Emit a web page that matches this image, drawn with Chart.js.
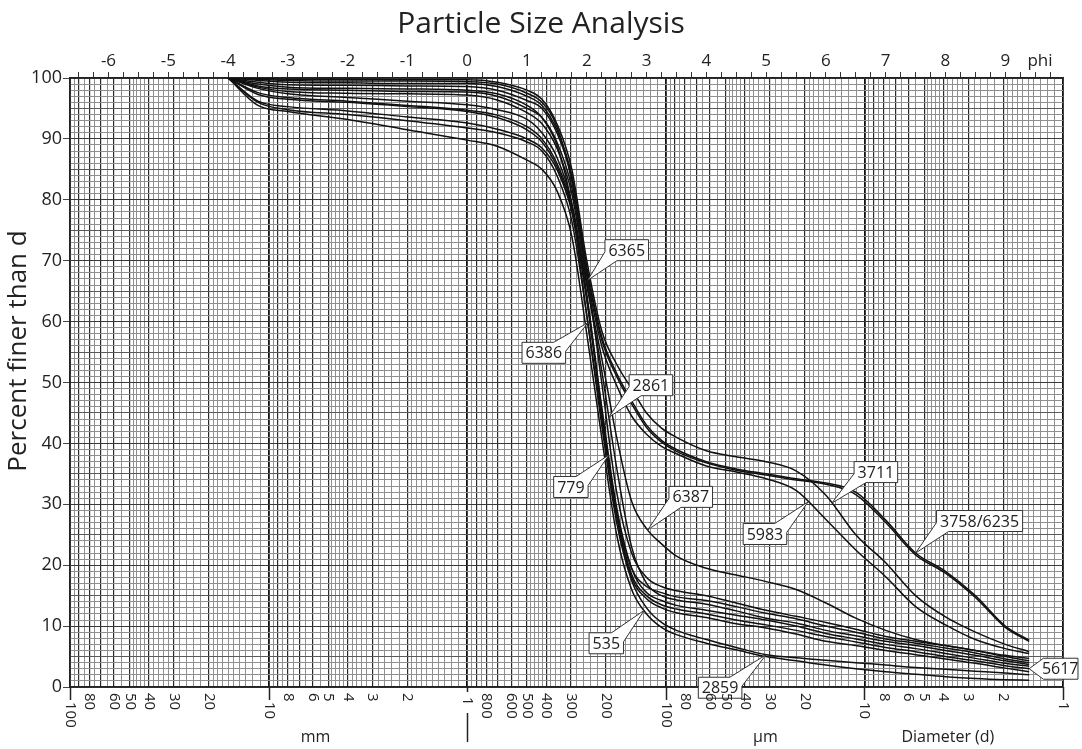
<!DOCTYPE html>
<html>
<head>
<meta charset="utf-8">
<script src="https://cdn.jsdelivr.net/npm/chart.js@4/dist/chart.umd.min.js"></script>
<style>
html,body{margin:0;padding:0;background:#fff;}
#wrap{width:1082px;height:749px;position:relative;}
</style>
</head>
<body>
<div id="wrap"><canvas id="c" width="1082" height="749"></canvas></div>
<script>
// ---------------- data (phi units on the x axis, percent finer on y) ----------------
const phiKnots = [-4,-3.5,-3,-2,-1,0,0.5,1,1.25,1.5,1.75,2,2.25,2.5,2.75,3,3.25,3.5,4,4.5,5,5.5,6,6.5,7,7.5,8,8.5,9,9.4];

const s3711 = [100,99.9,99.8,99.8,99.7,99.7,99.3,98,96.5,92.5,85,70,58.5,53,49,45,42.5,41,38.8,37.8,37.0,35.5,31.5,25,20.4,15,11.5,9,7,5.8];
const s6365 = [100,99.8,99.6,99.5,99.5,99.4,99.0,97.5,96,92,83,68,50,32,22,18,16.5,15.8,15.0,13.8,12.6,11.6,10.6,9.5,8.3,7.5,6.8,6.0,5.0,4.3];
const s3758 = [100,99.6,99.3,99.2,99.1,99.1,98.6,97.0,95.5,91.5,84,69,57.5,51.5,47,43,40.5,39,37,35.8,35.0,34.2,33.5,32,27.4,22,19,15,10,7.7];
const s6235 = [100,99.3,98.9,98.8,98.7,98.6,98.0,96.3,95,91,83.5,68.5,57,51,46.5,42.6,40.2,38.7,36.8,35.6,34.8,34.0,33.3,31.6,27.0,21.7,18.7,14.7,9.8,7.5];
const s6386 = [100,99.0,98.5,98.3,98.2,98.0,97.4,95.5,93.5,89,79,61,44,28.5,19.5,16.5,15.5,14.8,14.2,13.2,12.1,11.2,10.0,9.0,7.9,7.2,6.4,5.6,4.6,4.0];
const s5983 = [100,98.7,98.2,98.0,97.8,97.7,97.0,95.0,93.5,89.5,82,67.5,56,49.5,44.5,41.5,39.5,38.3,36.3,35.3,34.2,32.3,27.5,22.5,18.1,13.2,10.2,7.8,6.3,5.5];
const s2861 = [100,98.5,97.8,97.5,97.4,97.2,96.4,94.3,92.5,88.5,81,66.5,52,36,23,17,15.0,14.3,13.6,12.5,11.3,10.5,9.3,8.4,7.5,6.8,6.0,5.2,4.3,3.7];
const s6387 = [100,98.3,97.4,96.8,96.2,95.6,94.8,93.2,91,87,79.5,66,54,41,30.5,26,23.5,21.5,19.5,18.4,17.3,16.0,13.8,11.3,9.3,7.8,6.8,6.0,5.2,4.7];
const s779  = [100,97.6,96.8,96.2,95.5,94.7,93.9,92.0,90,86,79,64.5,46,29.5,19.5,15.5,14.2,13.4,12.6,11.8,11.0,10.0,8.8,7.9,7.0,6.3,5.5,4.7,3.9,3.4];
const s5617 = [100,97.3,96.5,96.0,95.3,94.5,93.5,91.5,89.5,85.5,78.5,64,45.5,28.5,18.5,15,13.5,12.8,12.0,11.0,10.2,9.3,8.3,7.4,6.5,5.8,5.0,4.3,3.5,3.0];
const sOther = [100,96.2,95.3,94.6,93.6,92.6,91.6,90.0,88.5,85,78,63.5,45,28,18,14.5,13.0,12.2,11.4,10.4,9.7,8.7,7.5,6.8,6.0,5.3,4.6,3.9,3.1,2.5];
const s2859 = [100,96.0,94.8,94.0,93.0,91.8,91.0,89.5,88,84,76.5,61,43,27,17.5,13,10.6,9.3,7.8,6.5,5.3,4.8,4.4,4.0,3.6,3.2,2.9,2.6,2.3,2.0];
const s535  = [100,95.5,94.5,93.2,91.5,89.8,88.8,86.5,85,81.5,74,58,41,25,16,12,9.8,8.6,7.2,6.1,5.0,4.3,3.6,3.0,2.5,2.1,1.7,1.4,1.2,1.1];

const sampleNames = ['3711','6365','3758','6235','6386','5983','2861','6387','779','5617','other','2859','535'];
const sampleValues = [s3711,s6365,s3758,s6235,s6386,s5983,s2861,s6387,s779,s5617,sOther,s2859,s535];

// axis tick labels
const diameterTicksMm = [100,80,60,50,40,30,20,10,8,6,5,4,3,2,1,0.8,0.6,0.5,0.4,0.3,0.2,0.1,0.08,0.06,0.05,0.04,0.03,0.02,0.01,0.008,0.006,0.005,0.004,0.003,0.002,0.001];
const diameterTickLabels = ['100','80','60','50','40','30','20','10','8','6','5','4','3','2','1','800','600','500','400','300','200','100','80','60','50','40','30','20','10','8','6','5','4','3','2','1'];
const percentTicks = [0,10,20,30,40,50,60,70,80,90,100];
const phiLabels = [-6,-5,-4,-3,-2,-1,0,1,2,3,4,5,6,7,8,9];

// log-paper grid mantissas (per decade) and decades (mm)
const gridMantissas = [1,1.1,1.2,1.3,1.4,1.5,1.6,1.7,1.8,1.9,2,2.2,2.4,2.6,2.8,3,3.2,3.4,3.6,3.8,4,4.2,4.4,4.6,4.8,5,5.5,6,6.5,7,7.5,8,8.5,9,9.5];
const gridDecades = [0.001,0.01,0.1,1,10];

// callouts: label, series, and where on that series the pointer lands
const callouts = [
  {text:'6365', series:'6365', pct:66.8, dx:39,  dy:-30},
  {text:'6386', series:'6386', pct:59.8, dx:-44, dy:30},
  {text:'2861', series:'2861', pct:44.3, dx:42,  dy:-32},
  {text:'779',  series:'779',  pct:38.1, dx:-38, dy:32},
  {text:'6387', series:'6387', phi:3.02, dx:43,  dy:-33},
  {text:'5983', series:'5983', phi:5.70, dx:-43, dy:32},
  {text:'3711', series:'3711', phi:6.10, dx:44,  dy:-31},
  {text:'3758/6235', series:'3758', phi:7.5, dx:64, dy:-32},
  {text:'535',  series:'535',  pct:12.6, dx:-38, dy:33},
  {text:'2859', series:'2859', phi:5.0,  dx:-46, dy:33},
  {text:'5617', series:'5617', phi:9.4,  dx:27,  dy:0, arrow:'left'}
];

// ---------------- helpers ----------------
const FONT = '"Open Sans", "DejaVu Sans", sans-serif';
const PHI_MIN = -Math.log2(100);
const PHI_MAX = -Math.log2(0.001);

const gridValues = [];
const gridKinds = [];
gridDecades.forEach(d => {
  gridMantissas.forEach(m => {
    gridValues.push(+(m * d).toPrecision(6));
    gridKinds.push(m === 1 ? 2 : (Number.isInteger(m) ? 1 : 0));
  });
});
gridValues.push(100); gridKinds.push(2);

const yGridValues = [];
for (let v = 0; v <= 100; v++) yGridValues.push(v);
const phiTickValues = [];
for (let v = -6.5; v <= 9.76; v += 0.25) phiTickValues.push(+v.toFixed(2));

function seriesByName(n) { return sampleValues[sampleNames.indexOf(n)]; }
function pctAtPhi(arr, phi) {
  for (let i = 0; i < phiKnots.length - 1; i++) {
    if (phi >= phiKnots[i] && phi <= phiKnots[i+1]) {
      const t = (phi - phiKnots[i]) / (phiKnots[i+1] - phiKnots[i]);
      return arr[i] + t * (arr[i+1] - arr[i]);
    }
  }
  return arr[arr.length - 1];
}
function phiAtPct(arr, pct) {
  for (let i = 0; i < arr.length - 1; i++) {
    if (pct <= arr[i] && pct >= arr[i+1]) {
      const t = (arr[i] - pct) / (arr[i] - arr[i+1]);
      return phiKnots[i] + t * (phiKnots[i+1] - phiKnots[i]);
    }
  }
  return phiKnots[phiKnots.length - 1];
}

const datasets = sampleNames.map((n, i) => ({
  label: n,
  data: phiKnots.map((p, j) => ({x: p, y: sampleValues[i][j]})),
  xAxisID: 'phi',
  yAxisID: 'y',
  borderColor: '#111',
  borderWidth: 1.5,
  pointRadius: 0,
  fill: false,
  cubicInterpolationMode: 'monotone'
}));

function toward(p, q) {
  const dx = q[0] - p[0], dy = q[1] - p[1];
  const len = Math.hypot(dx, dy);
  const g = Math.abs(dx) > Math.abs(dy) ? 12 : 9;
  return [p[0] + dx / len * g, p[1] + dy / len * g];
}

const decor = {
  id: 'decor',
  afterDatasetsDraw(chart) {
    const ctx = chart.ctx;
    const xs = chart.scales.phi, ys = chart.scales.y;
    ctx.save();
    ctx.font = '16px ' + FONT;
    callouts.forEach(c => {
      const arr = seriesByName(c.series);
      let phi, pct;
      if (c.pct !== undefined) { pct = c.pct; phi = phiAtPct(arr, pct); }
      else { phi = c.phi; pct = pctAtPhi(arr, phi); }
      const tx = xs.getPixelForValue(phi), ty = ys.getPixelForValue(pct);
      const cx = tx + c.dx, cy = ty + c.dy;
      const w = ctx.measureText(c.text).width + 7, h = 21;
      const L = cx - w/2, R = cx + w/2, T = cy - h/2, B = cy + h/2;
      let pts;
      if (c.arrow === 'left') {
        pts = [[tx, ty], [L + 9, T], [R, T], [R, B], [L + 9, B]];
      } else {
        const corners = [[L,T],[R,T],[R,B],[L,B]];
        const sx = tx > cx ? 1 : -1, sy = ty > cy ? 1 : -1;
        const ci = sx < 0 ? (sy < 0 ? 0 : 3) : (sy < 0 ? 1 : 2);
        pts = [];
        corners.forEach((p, i) => {
          if (i !== ci) { pts.push(p); return; }
          pts.push(toward(p, corners[(i+3)%4]), [tx, ty], toward(p, corners[(i+1)%4]));
        });
      }
      ctx.beginPath();
      pts.forEach((p, i) => i ? ctx.lineTo(p[0], p[1]) : ctx.moveTo(p[0], p[1]));
      ctx.closePath();
      ctx.fillStyle = '#fff';
      ctx.fill();
      ctx.lineWidth = 1;
      ctx.strokeStyle = '#333';
      ctx.stroke();
      ctx.fillStyle = '#222';
      ctx.textAlign = 'center';
      ctx.textBaseline = 'middle';
      ctx.fillText(c.text, cx + (c.arrow === 'left' ? 4 : 0), cy + 1);
    });
    ctx.restore();
  },
  afterDraw(chart) {
    const ctx = chart.ctx, area = chart.chartArea;
    const ds = chart.scales.d;
    ctx.save();
    // title
    ctx.fillStyle = '#222';
    ctx.font = '30px ' + FONT;
    ctx.textAlign = 'center';
    ctx.textBaseline = 'middle';
    ctx.fillText('Particle Size Analysis', chart.width / 2, 24);
    // y title
    ctx.save();
    ctx.translate(19, 351);
    ctx.rotate(-Math.PI / 2);
    ctx.font = '26px ' + FONT;
    ctx.fillText('Percent finer than d', 0, 0);
    ctx.restore();
    // phi label
    ctx.font = '17px ' + FONT;
    ctx.fillText('phi', 1040, 61);
    // bottom ticks and rotated labels
    ctx.strokeStyle = '#222';
    ctx.lineWidth = 1.5;
    ctx.font = '15px ' + FONT;
    diameterTicksMm.forEach((v, i) => {
      const x = Math.round(ds.getPixelForValue(v)) + 0.5;
      const lg = Math.log10(v);
      const decade = Math.abs(lg - Math.round(lg)) < 1e-9;
      let start = 6;
      if (decade) {
        const len = v === 1 ? 5 : 13;
        ctx.beginPath(); ctx.moveTo(x, area.bottom); ctx.lineTo(x, area.bottom + len); ctx.stroke();
        start = v === 1 ? 10 : 15;
      }
      if (v === 1) {
        ctx.beginPath(); ctx.moveTo(x, area.bottom + 26); ctx.lineTo(x, area.bottom + 55); ctx.stroke();
      }
      ctx.save();
      ctx.translate(x, area.bottom + start);
      ctx.rotate(Math.PI / 2);
      ctx.textAlign = 'left';
      ctx.textBaseline = 'middle';
      ctx.fillText(diameterTickLabels[i], 0, 0);
      ctx.restore();
    });
    ctx.font = '16px ' + FONT;
    ctx.textAlign = 'center';
    ctx.textBaseline = 'middle';
    ctx.fillText('mm', ds.getPixelForValue(5.8), 737);
    ctx.fillText('\u00b5m', ds.getPixelForValue(0.0315), 737);
    ctx.fillText('Diameter (d)', ds.getPixelForValue(0.0038), 737);
    ctx.restore();
  }
};

Chart.defaults.font.family = FONT;
Chart.defaults.color = '#222';

new Chart(document.getElementById('c'), {
  type: 'line',
  data: { datasets },
  plugins: [decor],
  options: {
    responsive: false,
    animation: false,
    layout: { padding: { left: 0, right: 19, top: 0, bottom: 0 } },
    plugins: { legend: { display: false }, tooltip: { enabled: false }, title: { display: false } },
    scales: {
      d: {
        type: 'logarithmic', position: 'bottom', reverse: true, min: 0.001, max: 100,
        afterBuildTicks: s => { s.ticks = gridValues.map(v => ({value: v})); },
        afterFit: s => { s.height = 62; },
        ticks: { display: false, autoSkip: false },
        grid: {
          drawTicks: false,
          color: ctx => ['#8f8f8f', '#2a2a2a', '#111'][gridKinds[ctx.index]] || '#8f8f8f',
          lineWidth: ctx => [1, 1.2, 1.8][gridKinds[ctx.index]] || 1
        },
        border: { display: true, color: '#222', width: 1.5 }
      },
      phi: {
        type: 'linear', position: 'top', min: PHI_MIN, max: PHI_MAX,
        afterBuildTicks: s => { s.ticks = phiTickValues.map(v => ({value: v})); },
        afterFit: s => { s.height = 78; },
        ticks: {
          autoSkip: false, maxRotation: 0, minRotation: 0, padding: 1,
          font: { size: 17 }, color: '#222',
          callback: v => phiLabels.includes(v) ? String(v) : ''
        },
        grid: { drawOnChartArea: false, tickLength: 6, color: '#333' },
        border: { display: true, color: '#222', width: 1.5 }
      },
      y: {
        type: 'linear', position: 'left', min: 0, max: 100,
        afterBuildTicks: s => { s.ticks = yGridValues.map(v => ({value: v})); },
        afterFit: s => { s.width = 70; },
        ticks: {
          autoSkip: false, padding: 1, font: { size: 18 }, color: '#222',
          callback: v => percentTicks.includes(v) ? String(v) : ''
        },
        grid: {
          tickLength: 7,
          color: ctx => { const v = ctx.tick.value; return v % 10 === 0 ? '#3a3a3a' : (v % 5 === 0 ? '#5a5a5a' : '#8f8f8f'); },
          tickColor: ctx => ctx.tick.value % 10 === 0 ? '#444' : 'rgba(0,0,0,0)',
          lineWidth: 1
        },
        border: { display: true, color: '#222', width: 1.5 }
      }
    }
  }
});
</script>
</body>
</html>
